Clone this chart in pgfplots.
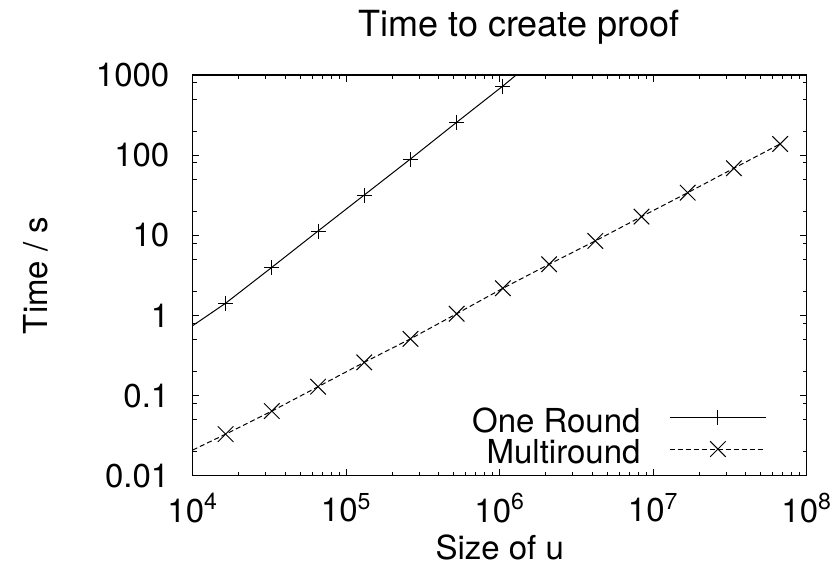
\documentclass[border=0pt]{standalone}
\usepackage{fontspec}
\setmainfont{TeX Gyre Heros}
\usepackage{pgfplots}
\pgfplotsset{compat=1.18}

\begin{document}
\fontsize{16.5}{19}\selectfont
\begin{tikzpicture}
\useasboundingbox (0,0) rectangle (417.5pt,287pt);
\begin{axis}[
  at={(96.35pt,49.15pt)}, anchor=south west,
  scale only axis, width=307pt, height=200.35pt,
  xmode=log, ymode=log,
  xmin=1e4, xmax=1e8, ymin=0.01, ymax=1000,
  xtick={1e4,1e5,1e6,1e7,1e8},
  xticklabels={10\textsuperscript{4},10\textsuperscript{5},10\textsuperscript{6},10\textsuperscript{7},10\textsuperscript{8}},
  ytick={0.01,0.1,1,10,100,1000},
  yticklabels={0.01,0.1,1,10,100,1000},
  minor xtick={2e4,3e4,4e4,5e4,6e4,7e4,8e4,9e4,
               2e5,3e5,4e5,5e5,6e5,7e5,8e5,9e5,
               2e6,3e6,4e6,5e6,6e6,7e6,8e6,9e6,
               2e7,3e7,4e7,5e7,6e7,7e7,8e7,9e7},
  minor ytick={0.02,0.05,0.08,0.2,0.5,0.8,2,5,8,20,50,80,200,500,800},
  /pgf/number format/assume math mode=true,
  major tick length=3.3pt, minor tick length=2pt,
  tick style={black, line width=0.5pt},
  axis line style={line width=0.7pt},
  xticklabel style={yshift=-3pt},
  yticklabel style={xshift=-6pt},
  every axis title shift=0pt,
  title={Time to create proof},
  title style={at={(axis description cs:0.531,1.097)}, anchor=base, font=\fontsize{18}{21}\selectfont},
  xlabel={Size of u},
  xlabel style={at={(axis description cs:0.5,-0.21)}, anchor=base},
  ylabel={Time / s},
  ylabel style={at={(axis description cs:-0.255,0.5)}, anchor=center},
  legend cell align=right,
  legend plot pos=right,
  legend style={draw=none, fill=none, inner sep=0pt, row sep=-3pt,
    at={(axis description cs:0.935,0.18)}, anchor=north east},
]
% lines (extended to the plot border)
\addplot[black, line width=0.5pt, forget plot] coordinates {
  (1e4,0.745) (16384,1.42) (32768,3.98) (65536,11.3) (131072,31.8)
  (262144,89.5) (524288,257) (1048576,729) (1.28e6,1000)};
\addplot[black, line width=0.5pt, dash pattern=on 2.5pt off 1.5pt, forget plot] coordinates {
  (1e4,0.0209) (16384,0.033) (32768,0.064) (65536,0.129) (131072,0.26)
  (262144,0.51) (524288,1.05) (1048576,2.18) (2097152,4.35) (4194304,8.5)
  (8388608,17.1) (16777216,34) (33554432,68.6) (67108864,138)};
% measured points
\addplot[black, only marks, mark=+, mark size=3.75pt, mark options={line width=0.5pt},
  legend image code/.code={
    \path (0pt,2.5pt);
    \draw[black, line width=0.5pt] (12.5pt,2.5pt) -- (60.5pt,2.5pt);
    \draw[black, line width=0.5pt, mark=+, mark size=3.75pt] plot coordinates {(36.5pt,2.5pt)};}]
  coordinates {
  (16384,1.42) (32768,3.98) (65536,11.3) (131072,31.8)
  (262144,89.5) (524288,257) (1048576,729)};
\addlegendentry{One Round}
\addplot[black, only marks, mark=x, mark size=5.5pt, mark options={line width=0.5pt},
  legend image code/.code={
    \path (0pt,2.5pt);
    \draw[black, line width=0.5pt, dash pattern=on 2.5pt off 1.5pt] (12.5pt,2.5pt) -- (60.5pt,2.5pt);
    \draw[black, line width=0.5pt, mark=x, mark size=5.5pt] plot coordinates {(36.5pt,2.5pt)};}]
  coordinates {
  (16384,0.033) (32768,0.064) (65536,0.129) (131072,0.26)
  (262144,0.51) (524288,1.05) (1048576,2.18) (2097152,4.35) (4194304,8.5)
  (8388608,17.1) (16777216,34) (33554432,68.6) (67108864,138)};
\addlegendentry{Multiround}
\end{axis}
\end{tikzpicture}
\end{document}
